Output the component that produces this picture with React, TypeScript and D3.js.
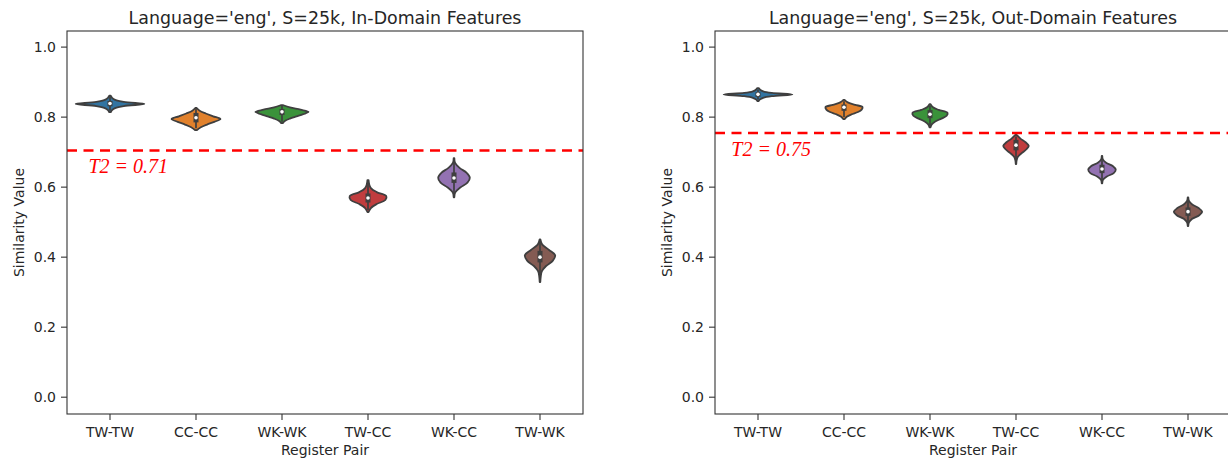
import React from "react";
import * as d3 from "d3";

const categories = ["TW-TW", "CC-CC", "WK-WK", "TW-CC", "WK-CC", "TW-WK"];
const colors = ["#3274a1", "#e1812c", "#3a923a", "#c03d3e", "#9372b2", "#845b53"];
const yTicks = [0.0, 0.2, 0.4, 0.6, 0.8, 1.0];

// In-Domain panel
const inMedian = [0.839, 0.798, 0.815, 0.569, 0.626, 0.4];
const inQ1 = [0.831, 0.785, 0.806, 0.556, 0.612, 0.385];
const inQ3 = [0.846, 0.812, 0.823, 0.582, 0.642, 0.418];
const inWhiskerLow = [0.818, 0.768, 0.787, 0.535, 0.58, 0.338];
const inWhiskerHigh = [0.858, 0.823, 0.832, 0.612, 0.675, 0.445];
const inLow = [0.814, 0.763, 0.783, 0.529, 0.571, 0.329];
const inHigh = [0.861, 0.826, 0.834, 0.62, 0.683, 0.451];
const inPeak = [1.0, 0.71, 0.77, 0.56, 0.46, 0.44];
const inProfiles = [
  [0.02, 0.06, 0.15, 0.4, 1, 0.4, 0.15, 0.06, 0.02],
  [0.04, 0.2, 0.45, 0.75, 1, 0.7, 0.4, 0.15, 0.03],
  [0.03, 0.12, 0.3, 0.55, 0.8, 1, 0.7, 0.3, 0.05],
  [0.03, 0.15, 0.45, 0.9, 0.95, 0.45, 0.15, 0.06, 0.03],
  [0.02, 0.08, 0.4, 0.85, 1, 0.8, 0.35, 0.07, 0.02],
  [0.02, 0.05, 0.12, 0.4, 0.85, 1, 0.6, 0.15, 0.02],
];
const inThreshold = 0.705;
const inLabel = "T2 = 0.71";

// Out-Domain panel
const outMedian = [0.865, 0.828, 0.808, 0.72, 0.652, 0.53];
const outQ1 = [0.858, 0.818, 0.797, 0.705, 0.64, 0.518];
const outQ3 = [0.871, 0.836, 0.82, 0.735, 0.664, 0.542];
const outWhiskerLow = [0.85, 0.8, 0.776, 0.672, 0.618, 0.494];
const outWhiskerHigh = [0.879, 0.845, 0.832, 0.745, 0.684, 0.562];
const outLow = [0.846, 0.794, 0.771, 0.666, 0.611, 0.489];
const outHigh = [0.883, 0.849, 0.837, 0.749, 0.689, 0.571];
const outPeak = [1.0, 0.54, 0.51, 0.37, 0.4, 0.41];
const outProfiles = [
  [0.02, 0.06, 0.15, 0.4, 1, 0.4, 0.15, 0.06, 0.02],
  [0.03, 0.15, 0.4, 0.75, 0.95, 1, 0.6, 0.2, 0.03],
  [0.03, 0.1, 0.3, 0.65, 0.95, 1, 0.5, 0.15, 0.03],
  [0.02, 0.05, 0.15, 0.45, 0.8, 1, 0.75, 0.35, 0.05],
  [0.02, 0.07, 0.35, 0.85, 1, 0.8, 0.3, 0.06, 0.02],
  [0.02, 0.07, 0.3, 0.8, 1, 0.75, 0.3, 0.07, 0.02],
];
const outThreshold = 0.755;
const outLabel = "T2 = 0.75";

const FONT = "DejaVu Sans, sans-serif";
const TEXT = "#262626";
const EDGE = "#3f3f3f";

type PanelData = {
  title: string;
  median: number[];
  q1: number[];
  q3: number[];
  wLow: number[];
  wHigh: number[];
  low: number[];
  high: number[];
  peak: number[];
  profiles: number[][];
  threshold: number;
  label: string;
  labelX: number;
};

const panels: PanelData[] = [
  {
    title: "Language='eng', S=25k, In-Domain Features",
    median: inMedian, q1: inQ1, q3: inQ3, wLow: inWhiskerLow, wHigh: inWhiskerHigh,
    low: inLow, high: inHigh, peak: inPeak, profiles: inProfiles,
    threshold: inThreshold, label: inLabel, labelX: -0.25,
  },
  {
    title: "Language='eng', S=25k, Out-Domain Features",
    median: outMedian, q1: outQ1, q3: outQ3, wLow: outWhiskerLow, wHigh: outWhiskerHigh,
    low: outLow, high: outHigh, peak: outPeak, profiles: outProfiles,
    threshold: outThreshold, label: outLabel, labelX: -0.31,
  },
];

const TOP = 31;
const BOTTOM = 414;

function Panel({ p, left, width }: { p: PanelData; left: number; width: number }) {
  const x = d3.scaleBand<string>().domain(categories).range([left, left + width]).padding(0);
  const y = d3.scaleLinear().domain([-0.048, 1.046]).range([BOTTOM, TOP]);
  const bw = x.bandwidth();
  const dScale = d3.scaleLinear().domain([0, 1]).range([0, bw * 0.4]);
  const xLin = d3.scaleLinear().domain([-0.5, categories.length - 0.5]).range([left, left + width]);

  return (
    <g>
      <text x={left + width / 2} y={24} textAnchor="middle" fontFamily={FONT} fontSize={17.4} fill={TEXT}>
        {p.title}
      </text>
      {categories.map((c, i) => {
        const cx = x(c)! + bw / 2;
        const prof = p.profiles[i];
        const n = prof.length;
        const pts: [number, number][] = prof.map((d, k) => [
          p.low[i] + (k * (p.high[i] - p.low[i])) / (n - 1),
          d * p.peak[i],
        ]);
        const area = d3
          .area<[number, number]>()
          .y((d) => y(d[0]))
          .x0((d) => cx - dScale(d[1]))
          .x1((d) => cx + dScale(d[1]))
          .curve(d3.curveCatmullRom.alpha(0.5));
        return (
          <g key={c}>
            <path d={area(pts) || ""} fill={colors[i]} stroke={EDGE} strokeWidth={1.8} strokeLinejoin="round" />
            <line x1={cx} x2={cx} y1={y(p.wLow[i])} y2={y(p.wHigh[i])} stroke={EDGE} strokeWidth={1.7} />
            <line x1={cx} x2={cx} y1={y(p.q1[i])} y2={y(p.q3[i])} stroke={EDGE} strokeWidth={5} />
            <circle cx={cx} cy={y(p.median[i])} r={1.8} fill="white" />
          </g>
        );
      })}
      <line
        x1={left}
        x2={left + width}
        y1={y(p.threshold)}
        y2={y(p.threshold)}
        stroke="#ff0000"
        strokeWidth={2.5}
        strokeDasharray="10,6.5"
      />
      <text
        x={xLin(p.labelX)}
        y={y(p.threshold - 0.066)}
        fontFamily="Liberation Serif, Times New Roman, serif"
        fontStyle="italic"
        fontSize={20}
        fill="#ff0000"
      >
        {p.label}
      </text>
      <rect x={left} y={TOP} width={width} height={BOTTOM - TOP} fill="none" stroke="#333" strokeWidth={1.1} />
      {yTicks.map((t) => (
        <g key={t}>
          <line x1={left - 6} x2={left} y1={y(t)} y2={y(t)} stroke="#333" strokeWidth={1.1} />
          <text x={left - 11} y={y(t)} dy="0.35em" textAnchor="end" fontFamily={FONT} fontSize={14} fill={TEXT}>
            {t.toFixed(1)}
          </text>
        </g>
      ))}
      {categories.map((c) => (
        <g key={c}>
          <line x1={x(c)! + bw / 2} x2={x(c)! + bw / 2} y1={BOTTOM} y2={BOTTOM + 6} stroke="#333" strokeWidth={1.1} />
          <text x={x(c)! + bw / 2} y={437} textAnchor="middle" fontFamily={FONT} fontSize={14} fill={TEXT}>
            {c}
          </text>
        </g>
      ))}
      <text x={left + width / 2} y={455} textAnchor="middle" fontFamily={FONT} fontSize={14} fill={TEXT}>
        Register Pair
      </text>
      <text
        transform={`translate(${left - 48},${(TOP + BOTTOM) / 2}) rotate(-90)`}
        textAnchor="middle"
        dy="0.35em"
        fontFamily={FONT}
        fontSize={14}
        fill={TEXT}
      >
        Similarity Value
      </text>
    </g>
  );
}

export default function App() {
  return (
    <svg
      width={1228}
      height={460}
      style={{ position: "absolute", left: 0, top: 0, background: "white" }}
    >
      <rect x={0} y={0} width={1228} height={460} fill="white" />
      <Panel p={panels[0]} left={67} width={516} />
      <Panel p={panels[1]} left={715} width={516} />
    </svg>
  );
}
